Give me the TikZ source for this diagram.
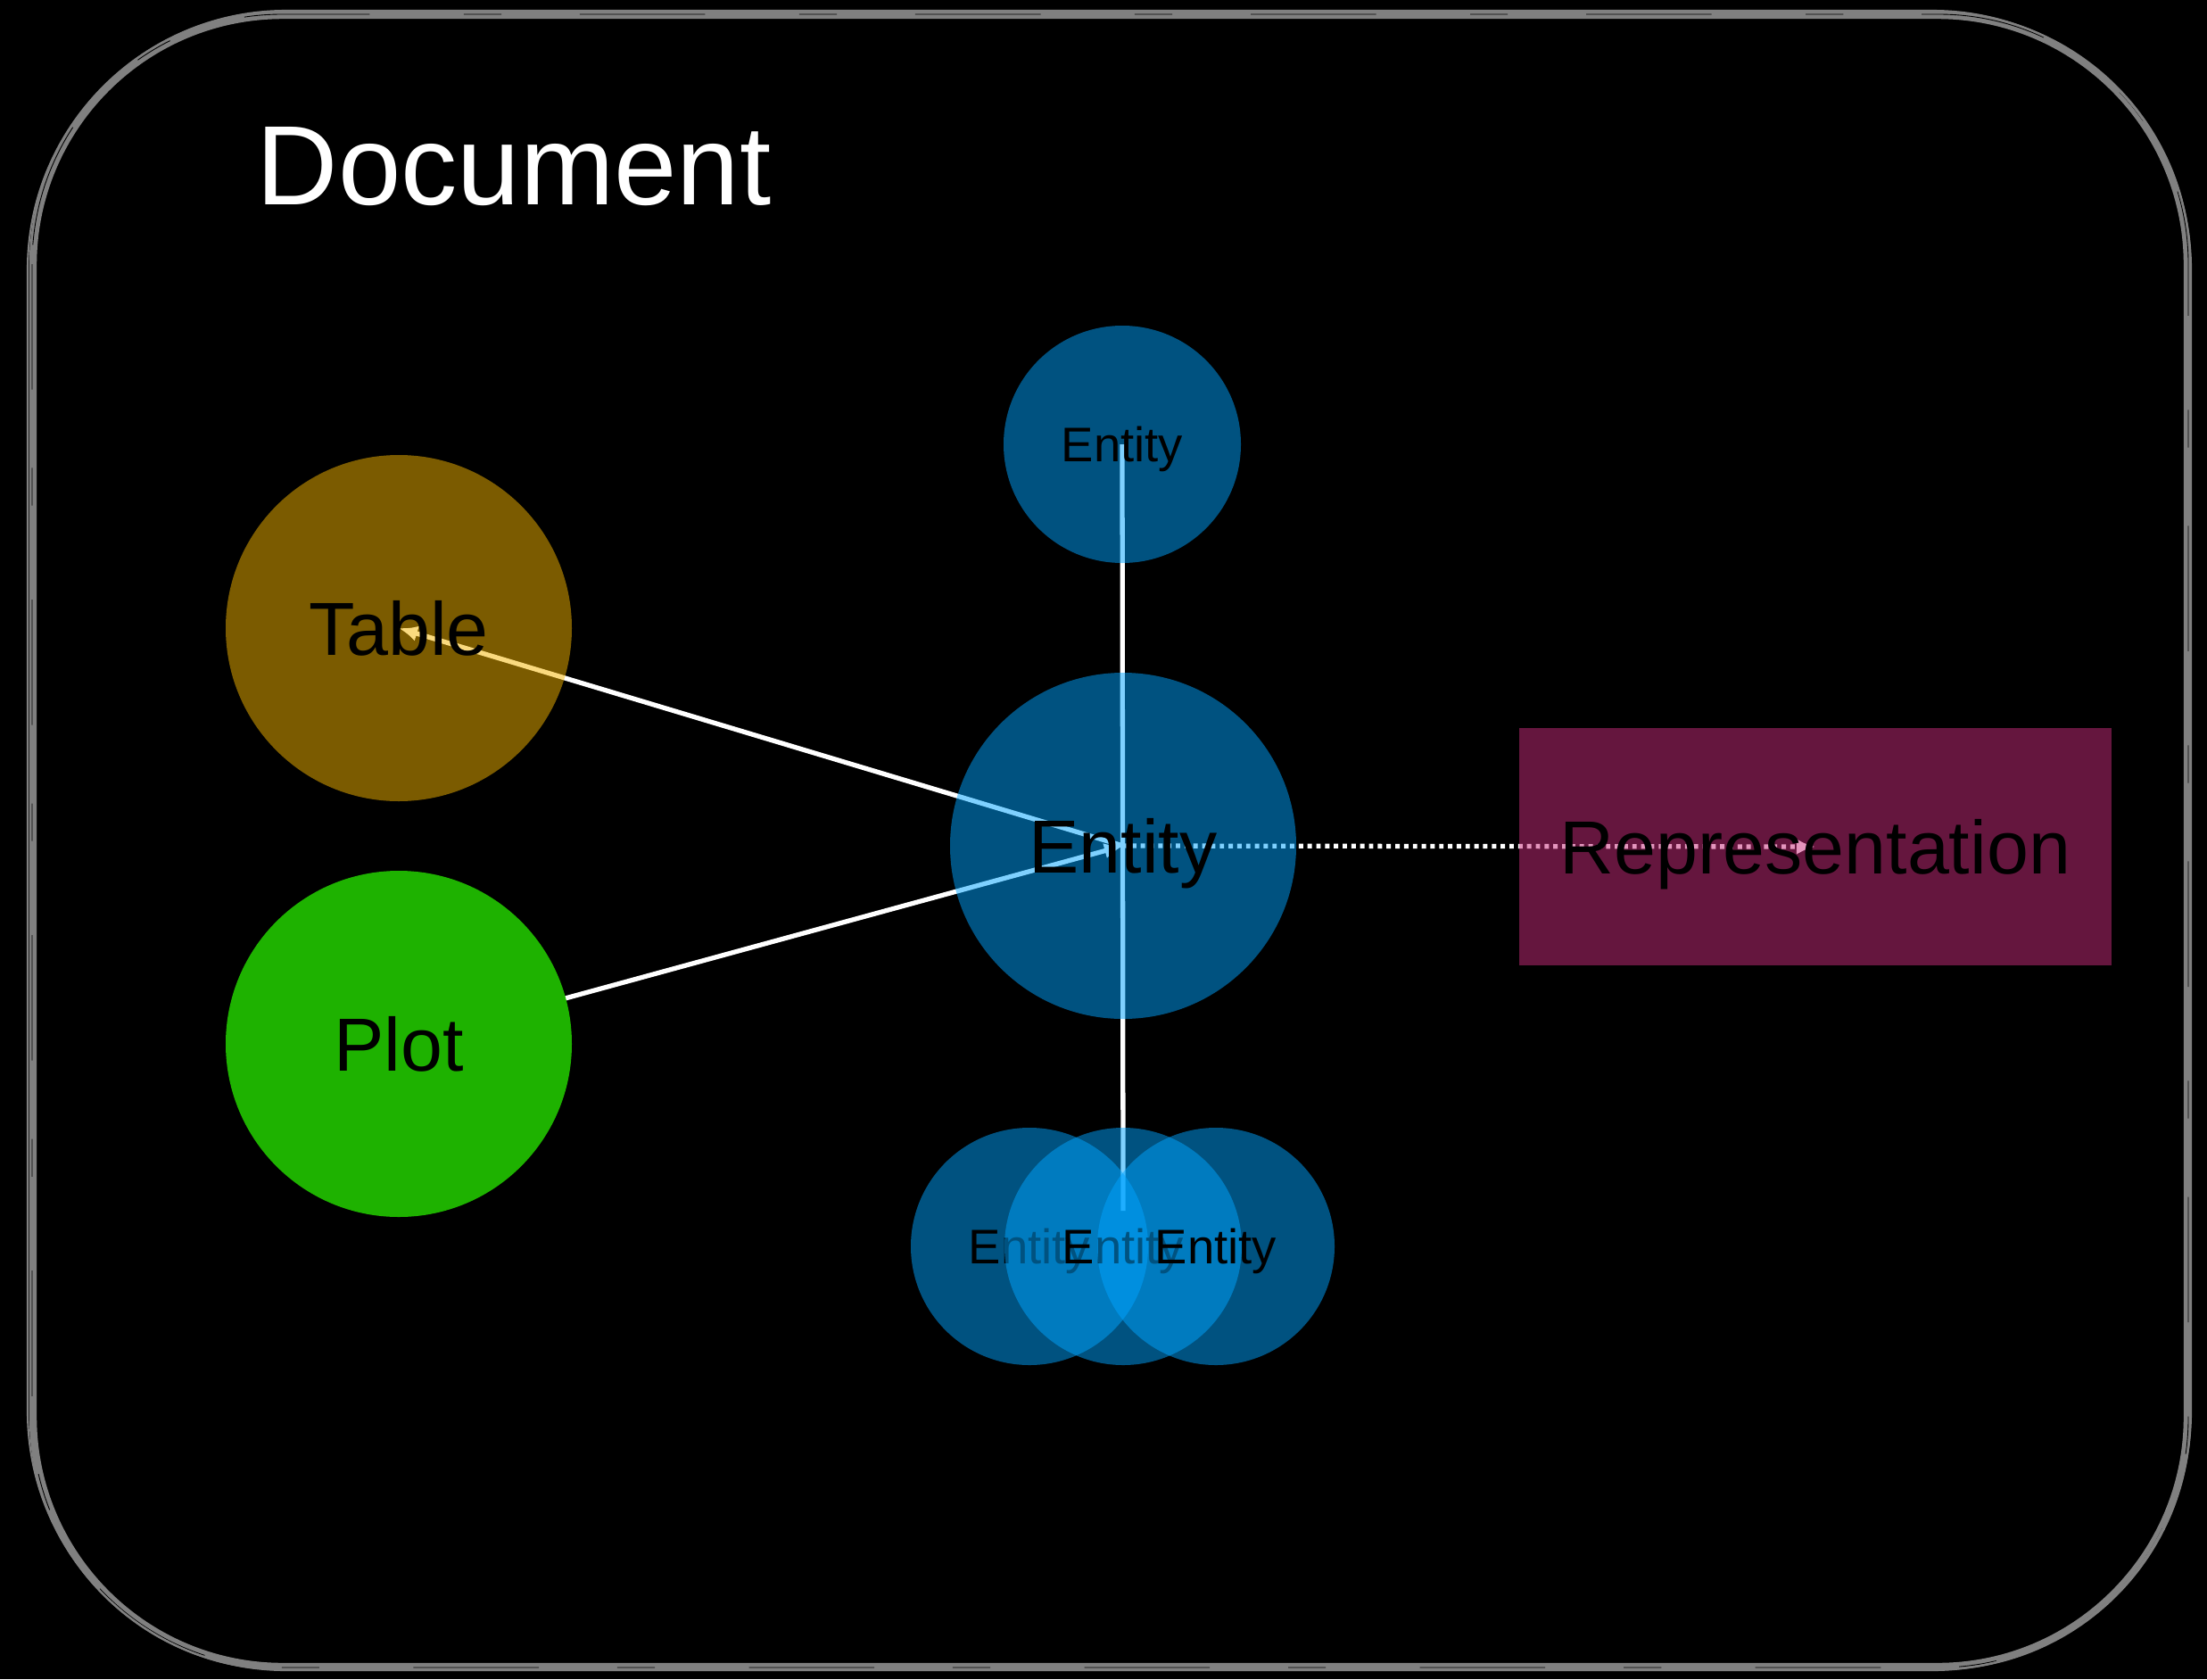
\documentclass[tikz,border=0pt]{standalone}
\usepackage{fontspec}
\setmainfont{Liberation Sans}
\usetikzlibrary{arrows.meta}

\definecolor{entityblue}{RGB}{0,164,255}
\definecolor{tableorange}{RGB}{246,182,0}
\definecolor{plotgreen}{RGB}{30,178,0}
\definecolor{reprpink}{RGB}{202,44,124}
\definecolor{framegray}{RGB}{128,128,128}

\pgfdeclarelayer{bg}
\pgfdeclarelayer{edges}
\pgfsetlayers{bg,edges,main}

\tikzset{
  bignode/.style={circle, inner sep=0pt, minimum size=3.88cm, text depth=0pt,
    text opacity=1, font=\fontsize{24}{28}\selectfont},
  entity/.style={bignode, fill=entityblue, fill opacity=0.5},
  subentity/.style={entity, minimum size=2.66cm, font=\fontsize{15.5}{18}\selectfont},
  link/.style={white, line width=1.5pt, -{Latex[length=6pt, width=5pt]}},
  frame/.style={framegray, line width=2.4pt, rounded corners=2.8cm}
}

\begin{document}
\begin{tikzpicture}[x=1cm, y=-1cm, line join=round, line cap=round]
\useasboundingbox (0,0) rectangle (24.74,18.82);

% Title
\node[anchor=base west, inner sep=0pt, white, font=\fontsize{36}{40}\selectfont] (title) at (2.87,2.29) {Document};

% Left column
\node[bignode, fill=tableorange, fill opacity=0.5] (table) at (4.47,7.04) {Table};
\node[bignode, fill=plotgreen] (plot) at (4.47,11.70) {Plot};

% Entities
\node[subentity] (enttop) at (12.58,4.98) {Entity};
\node[entity] (ent) at (12.59,9.48) {Entity};
\node[subentity] (entleft) at (11.54,13.97) {Entity};
\node[subentity] (entmid) at (12.59,13.97) {Entity};
\node[subentity] (entright) at (13.63,13.97) {Entity};

% Representation box
\node[fill=reprpink, fill opacity=0.5, text opacity=1, minimum width=6.64cm, minimum height=2.66cm,
  inner sep=0pt, text depth=0pt, font=\fontsize{24}{28}\selectfont] (repr) at (20.35,9.49) {Representation};

% Edges, under the nodes
\begin{pgfonlayer}{edges}
\draw[link] (ent.center) -- (table.center);
\draw[link] (plot.center) -- (ent.center);
\draw[white, line width=1.5pt] (enttop.center) -- ([yshift=0.4cm]entmid.center);
\draw[link, dash pattern=on 1.4pt off 1.4pt, line cap=butt] (ent.center) -- (repr.center);
\end{pgfonlayer}

% Background and sketchy frame
\begin{pgfonlayer}{bg}
\fill[black] (0,0) rectangle (24.74,18.82);
\draw[frame] (0.37,0.17) rectangle (24.52,18.68);
\draw[black, line width=0.25pt, rounded corners=2.8cm, dash pattern=on 40pt off 25pt on 12pt off 30pt]
  (0.36,0.16) rectangle (24.53,18.69);
\draw[framegray, line width=0.6pt, rounded corners=2.9cm] (0.31,0.12) rectangle (24.56,18.72);
\end{pgfonlayer}

\end{tikzpicture}
\end{document}
